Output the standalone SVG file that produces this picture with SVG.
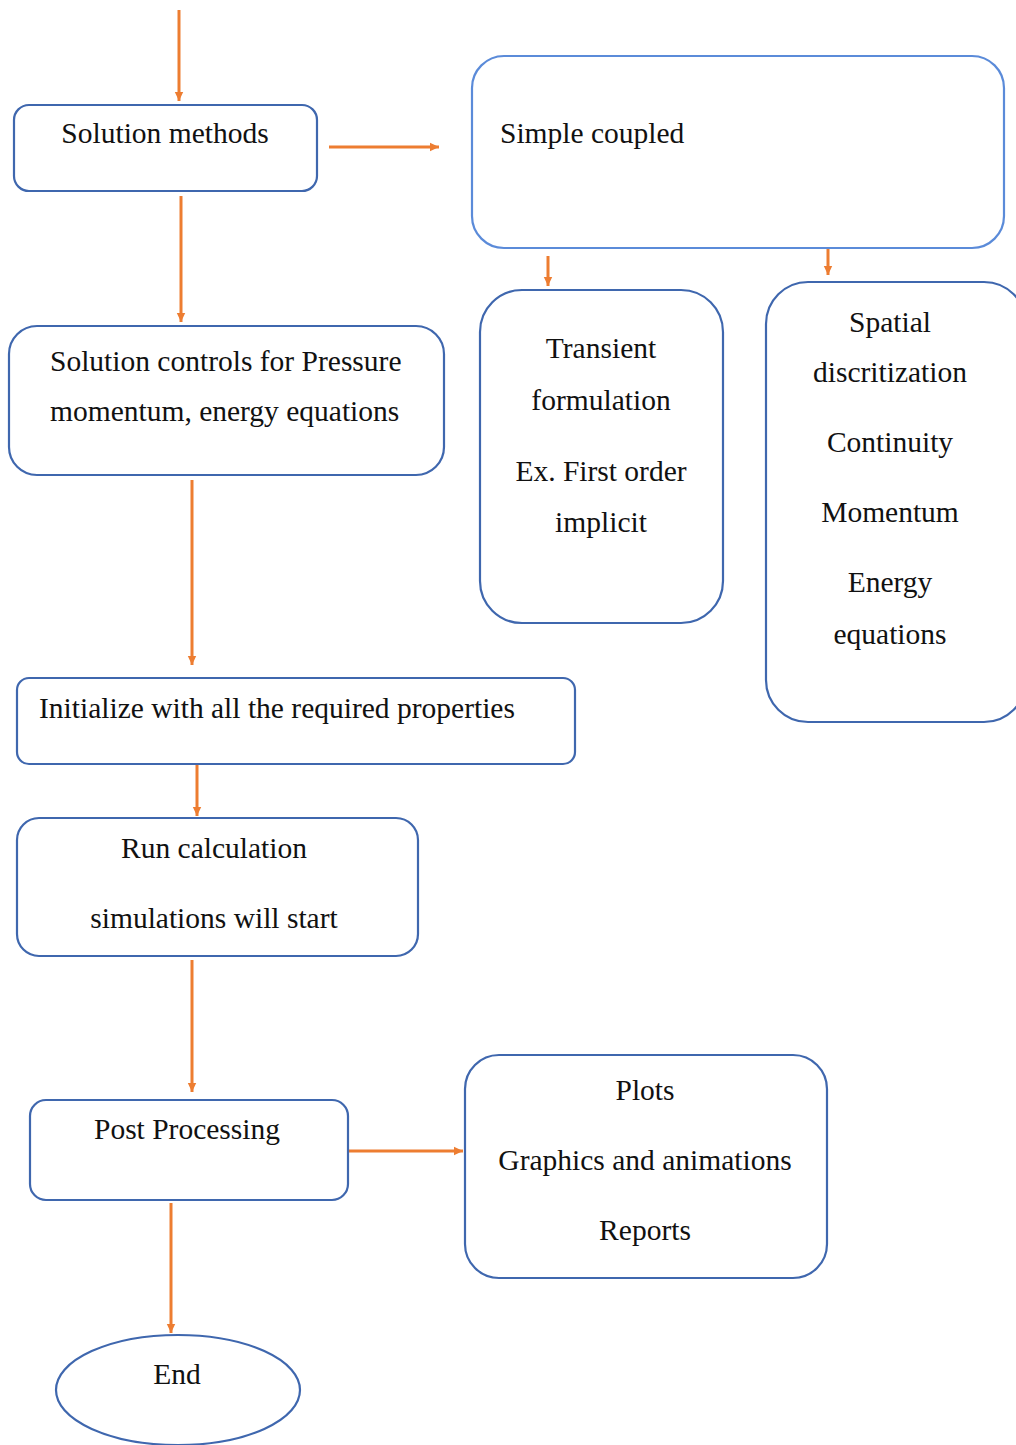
<svg xmlns="http://www.w3.org/2000/svg" width="1016" height="1445" viewBox="0 0 1016 1445">
<style>
.box{fill:#fff;stroke:#3F67AE;stroke-width:2.2}
.lt{stroke:#5B8BD9}
.c{stroke:#ED7D31;stroke-width:3;fill:none;marker-end:url(#ah)}
text{font-family:"Liberation Serif","Times New Roman",serif;font-size:29.5px;fill:#111}
.m{text-anchor:middle}
</style>
<defs>
<marker id="ah" markerWidth="4" markerHeight="4" refX="3" refY="2" orient="auto" markerUnits="strokeWidth">
<path d="M0,0.6 L3,2 L0,3.4 z" fill="#ED7D31"/>
</marker>
</defs>
<rect width="1016" height="1445" fill="#fff"/>
<g id="connectors">
<line class="c" x1="179" y1="10" x2="179" y2="101"/>
<line class="c" x1="329" y1="147" x2="439" y2="147"/>
<line class="c" x1="181" y1="196" x2="181" y2="322"/>
<line class="c" x1="548" y1="256" x2="548" y2="286"/>
<line class="c" x1="828" y1="248" x2="828" y2="275"/>
<line class="c" x1="192" y1="480" x2="192" y2="665"/>
<line class="c" x1="197" y1="762" x2="197" y2="816"/>
<line class="c" x1="192" y1="960" x2="192" y2="1092"/>
<line class="c" x1="349" y1="1151" x2="463" y2="1151"/>
<line class="c" x1="171" y1="1203" x2="171" y2="1333"/>
</g>
<g id="solution-methods">
<rect class="box" x="14" y="105" width="303" height="86" rx="15"/>
<text class="m" x="165" y="143">Solution methods</text>
</g>
<g id="simple-coupled">
<rect class="box lt" x="472" y="56" width="532" height="192" rx="32"/>
<text x="500" y="143">Simple coupled</text>
</g>
<g id="transient">
<rect class="box" x="480" y="290" width="243" height="333" rx="42"/>
<text class="m" x="601" y="358">Transient</text>
<text class="m" x="601" y="410">formulation</text>
<text class="m" x="601" y="481">Ex. First order</text>
<text class="m" x="601" y="532">implicit</text>
</g>
<g id="spatial">
<rect class="box" x="766" y="282" width="260" height="440" rx="42"/>
<text class="m" x="890" y="332">Spatial</text>
<text class="m" x="890" y="382">discritization</text>
<text class="m" x="890" y="452">Continuity</text>
<text class="m" x="890" y="522">Momentum</text>
<text class="m" x="890" y="592">Energy</text>
<text class="m" x="890" y="644">equations</text>
</g>
<g id="solution-controls">
<rect class="box" x="9" y="326" width="435" height="149" rx="28"/>
<text x="50" y="371">Solution controls for Pressure</text>
<text x="50" y="421">momentum, energy equations</text>
</g>
<g id="initialize">
<rect class="box" x="17" y="678" width="558" height="86" rx="12"/>
<text x="39" y="718">Initialize with all the required properties</text>
</g>
<g id="run-calculation">
<rect class="box" x="17" y="818" width="401" height="138" rx="22"/>
<text class="m" x="214" y="858">Run calculation</text>
<text class="m" x="214" y="928">simulations will start</text>
</g>
<g id="post-processing">
<rect class="box" x="30" y="1100" width="318" height="100" rx="16"/>
<text class="m" x="187" y="1139">Post Processing</text>
</g>
<g id="outputs">
<rect class="box" x="465" y="1055" width="362" height="223" rx="34"/>
<text class="m" x="645" y="1100">Plots</text>
<text class="m" x="645" y="1170">Graphics and animations</text>
<text class="m" x="645" y="1240">Reports</text>
</g>
<g id="end">
<ellipse class="box" cx="178" cy="1390" rx="122" ry="55"/>
<text class="m" x="177" y="1384">End</text>
</g>
</svg>
